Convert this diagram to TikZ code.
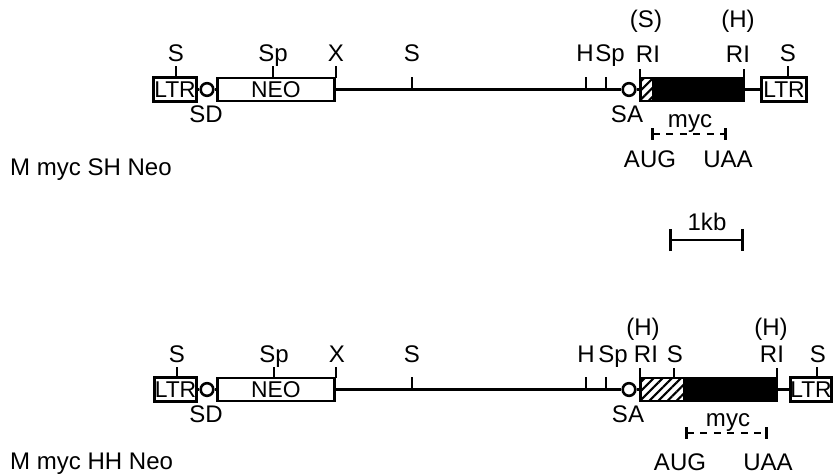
\documentclass[tikz,border=0pt]{standalone}
\usepackage{fontspec}
\setmainfont{Liberation Sans}
\usetikzlibrary{arrows.meta,patterns.meta}

\begin{document}
\begin{tikzpicture}[x=0.03cm, y=-0.03cm,
    lbl/.style={font=\fontsize{20.5}{24}\selectfont, inner sep=0pt, anchor=base},
    seg/.style={draw, line width=2.2pt, inner sep=0pt, minimum height=0.7cm,
      font=\fontsize{19.5}{24}\selectfont},
    ltr/.style={seg, line width=2.8pt},
    site/.style={draw, circle, line width=2.2pt, inner sep=0pt, minimum size=0.38cm},
    dna/.style={line width=2.3pt},
    orf/.style={line width=2.2pt, dash pattern=on 6pt off 5.5pt,
      {Bar[width=10pt]}-{Bar[width=10pt]}},
    scalebar/.style={line width=2.3pt, {Bar[width=19pt]}-{Bar[width=19pt]}},
    hatch/.style={pattern={Lines[angle=45, distance=5.5pt, line width=1.8pt]}}
  ]
  \useasboundingbox (0,0) rectangle (835,476);

  % ---- M myc SH Neo ----
  \node[ltr, minimum width=1.3cm] (ltrA1) at (175,89.5) {LTR};
  \node[site] (sdA) at (207,89.5) {};
  \node[seg, minimum width=3.52cm] (neoA) at (276,89.5) {NEO};
  \node[site] (saA) at (629,89.5) {};
  \node[seg, fill=black, minimum width=3.1cm] (mycA) at (692,89.5) {};
  \node[ltr, minimum width=1.36cm] (ltrA2) at (784,89.5) {LTR};
  \draw[dna] (ltrA1) -- (sdA) (sdA) -- (neoA) (neoA) -- (saA)
    (saA) -- (mycA) (mycA) -- (ltrA2);
  % hatched leader
  \fill[white] (641.5,79) rectangle (652,100);
  \fill[hatch] (641.5,79) rectangle (652,100);

  % sites
  \foreach \x/\ya/\yb in {176/77.5/66, 273/77.5/66, 336/77.5/66, 412/89.5/77,
      586/89.5/77, 606/89.5/77, 640/77.5/69, 744/77.5/69, 788/77.5/66}
    \draw[dna] (\x,\ya) -- (\x,\yb);
  \node[lbl] (sA1) at (176,61) {S};
  \node[lbl] (spA1) at (273,61) {Sp};
  \node[lbl] (xA) at (336,61) {X};
  \node[lbl] (sA2) at (412,61) {S};
  \node[lbl] (hA) at (585,61) {H};
  \node[lbl] (spA2) at (610,61) {Sp};
  \node[lbl] (riA1) at (648,62) {RI};
  \node[lbl] (riA2) at (738,62) {RI};
  \node[lbl] (sA3) at (788,61) {S};
  \node[lbl] (psA) at (646,28) {(S)};
  \node[lbl] (phA) at (738,28) {(H)};
  \node[lbl] (sdlA) at (206,122) {SD};
  \node[lbl] (salA) at (627,122) {SA};

  % myc reading frame
  \coordinate (augA) at (651,134);
  \coordinate (uaaA) at (727,134);
  \draw[orf] (augA) -- (uaaA);
  \node[lbl] (myclA) at (690,127) {myc};
  \node[lbl] (auglA) at (650,167) {AUG};
  \node[lbl] (uaalA) at (728,167) {UAA};
  \node[lbl, anchor=base west] (nameA) at (10,175) {M myc SH Neo};

  % ---- scale ----
  \coordinate (kbL) at (669,240);
  \coordinate (kbR) at (744,240);
  \draw[scalebar] (kbL) -- (kbR);
  \node[lbl] (kb) at (707,230) {1kb};

  % ---- M myc HH Neo ----
  \node[ltr, minimum width=1.27cm] (ltrB1) at (175.5,389.5) {LTR};
  \node[site] (sdB) at (207,389.5) {};
  \node[seg, minimum width=3.52cm] (neoB) at (276,389.5) {NEO};
  \node[site] (saB) at (629,389.5) {};
  \node[seg, fill=black, minimum width=4.09cm] (mycB) at (708.5,389.5) {};
  \node[ltr, minimum width=1.24cm] (ltrB2) at (811,389.5) {LTR};
  \draw[dna] (ltrB1) -- (sdB) (sdB) -- (neoB) (neoB) -- (saB)
    (saB) -- (mycB) (mycB) -- (ltrB2);
  % hatched leader
  \fill[white] (641.5,379) rectangle (683,400);
  \fill[hatch] (641.5,379) rectangle (683,400);

  % sites
  \foreach \x/\ya/\yb in {177/377.5/367, 274/377.5/367, 336/377.5/367, 412/389.5/377,
      586/389.5/377, 606/389.5/377, 640/377.5/368, 674/377.5/368, 777/377.5/368,
      817/377.5/367}
    \draw[dna] (\x,\ya) -- (\x,\yb);
  \node[lbl] (sB1) at (177,362) {S};
  \node[lbl] (spB1) at (274,362) {Sp};
  \node[lbl] (xB) at (337,362) {X};
  \node[lbl] (sB2) at (412,362) {S};
  \node[lbl] (hB) at (586,362) {H};
  \node[lbl] (spB2) at (613,362) {Sp};
  \node[lbl] (riB1) at (646,362) {RI};
  \node[lbl] (sB3) at (675,362) {S};
  \node[lbl] (riB2) at (772,362) {RI};
  \node[lbl] (sB4) at (818,362) {S};
  \node[lbl] (phB1) at (643,335) {(H)};
  \node[lbl] (phB2) at (771,335) {(H)};
  \node[lbl] (sdlB) at (206,422) {SD};
  \node[lbl] (salB) at (628,422) {SA};

  % myc reading frame
  \coordinate (augB) at (685,433);
  \coordinate (uaaB) at (768,433);
  \draw[orf] (augB) -- (uaaB);
  \node[lbl] (myclB) at (728,426) {myc};
  \node[lbl] (auglB) at (680,470) {AUG};
  \node[lbl] (uaalB) at (768,470) {UAA};
  \node[lbl, anchor=base west] (nameB) at (10,469) {M myc HH Neo};
\end{tikzpicture}
\end{document}
